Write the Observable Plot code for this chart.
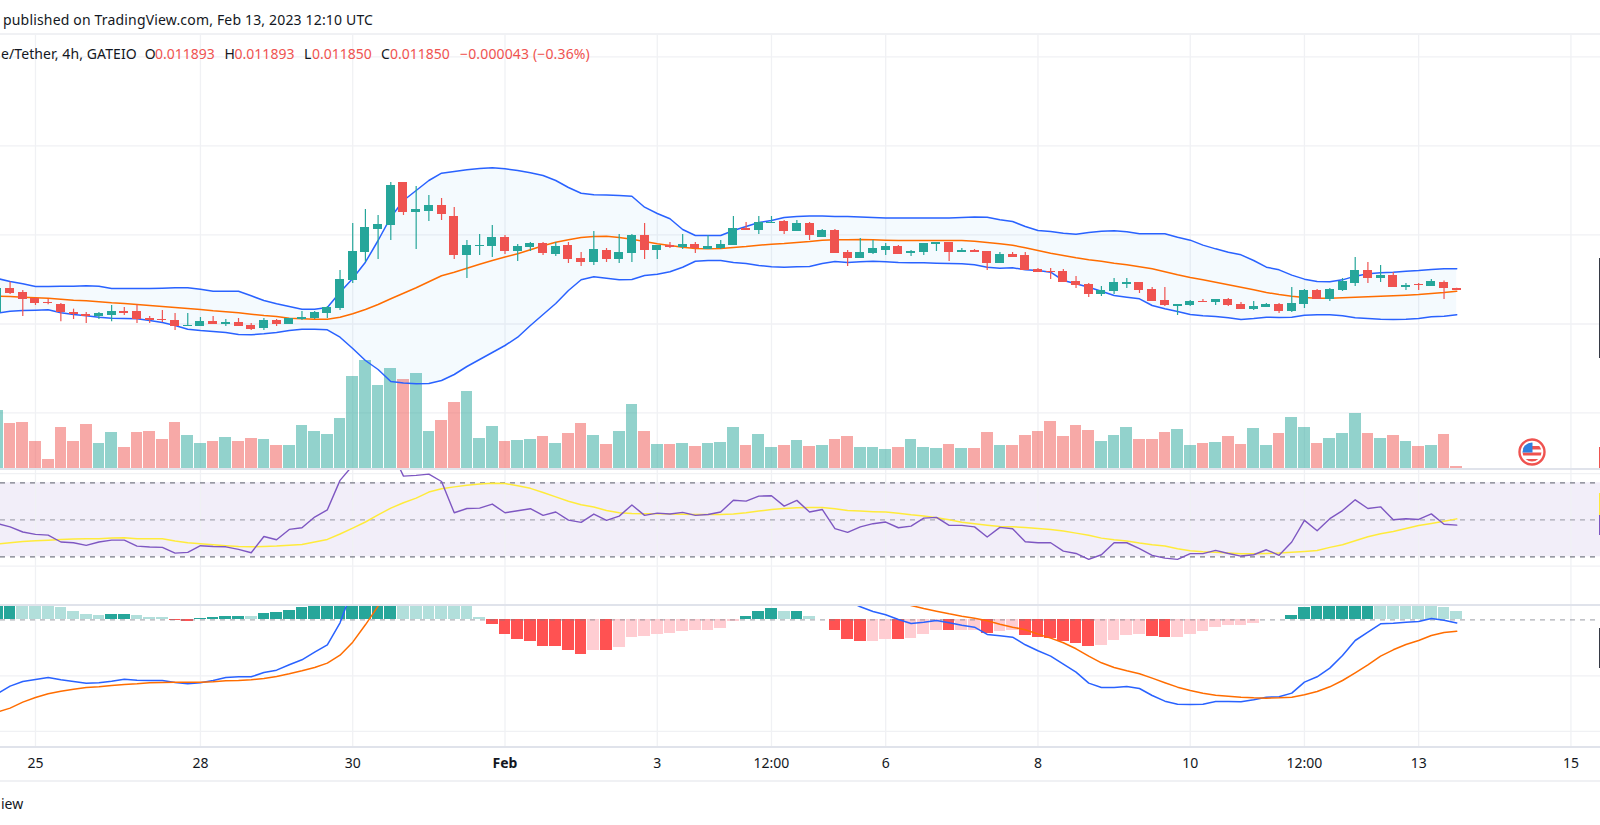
<!DOCTYPE html>
<html><head><meta charset="utf-8">
<script src="https://cdn.jsdelivr.net/npm/d3@7"></script>
<script src="https://cdn.jsdelivr.net/npm/@observablehq/plot@0.6"></script>
<style>
html,body{margin:0;padding:0;background:#fff;width:1600px;height:825px;overflow:hidden}
#page{position:relative;width:1600px;height:825px;overflow:hidden;font-family:"Noto Sans",sans-serif;font-size:14px;color:#131722}
#page svg.plot-layer{position:absolute;left:0;display:block;max-width:none}
.t{position:absolute;white-space:nowrap;line-height:18px}
.red{color:#ef5350}
.sep{position:absolute;left:0;width:1600px}
.edge{position:absolute;left:1599px;width:1px}
</style></head>
<body><div id="page"></div>
<script>
// Prices are in millionths of a USDT; the first bar sits just off the left edge (bar index -1).
const firstBar = -1;
const opens = [11417,11890,11810,11697,11610,11570,11403,11370,11330,11350,
11430,11430,11290,11270,11250,11137,11130,11230,11170,11210,
11150,11090,11250,11170,11270,11290,11390,11490,12050,12610,
13070,13150,14010,13410,13430,13550,13330,12550,12730,12730,
12910,12630,12710,12790,12570,12750,12490,12410,12650,12470,
12590,12950,12650,12750,12710,12770,12670,12690,12750,13090,
13050,13190,13230,13030,13190,12910,13050,12610,12490,12590,
12650,12730,12590,12610,12770,12810,12610,12650,12630,12390,
12570,12550,12270,12230,12230,12030,11970,11770,11830,11970,
12010,11870,11650,11530,11550,11630,11610,11670,11570,11470,
11510,11570,11430,11570,11850,11670,11850,11990,12250,12090,
12150,11910,11970,11930,12010,11893];
const highs = [11897,12017,11850,11697,11670,11590,11477,11410,11410,11550,
11510,11563,11330,11450,11390,11390,11310,11330,11270,11290,
11190,11290,11270,11290,11430,11430,11530,12250,13190,13470,
13350,14010,14010,13930,13750,13690,13510,12850,12970,13150,
12950,12770,12810,12810,12810,12810,12610,13030,12690,12970,
12970,13190,12750,12810,12970,12810,12950,12850,13330,13210,
13330,13330,13250,13250,13210,13070,13070,12650,12890,12850,
12790,12750,12650,12790,12810,12810,12690,12670,12630,12610,
12610,12610,12290,12290,12270,12130,11990,11930,12090,12090,
12010,11910,11910,11570,11650,11670,11670,11690,11610,11630,
11590,11590,11910,11870,11870,11890,12090,12510,12410,12350,
12210,11990,11990,12070,12040,11893];
const lows = [11417,11770,11330,11550,11563,11223,11270,11190,11270,11223,
11350,11190,11190,11210,11050,11137,11130,11170,11130,11130,
11050,11050,11130,11170,11250,11270,11290,11450,11990,12410,
12470,12850,13350,12670,13230,13250,12470,12090,12550,12510,
12570,12430,12630,12550,12530,12390,12330,12350,12410,12390,
12410,12470,12470,12690,12670,12590,12670,12670,12750,13050,
12970,13190,12970,13030,12850,12910,12590,12330,12490,12570,
12550,12570,12530,12550,12630,12430,12610,12610,12250,12390,
12510,12250,12210,12070,12010,11890,11710,11730,11770,11890,
11790,11630,11530,11350,11530,11610,11550,11530,11470,11450,
11510,11390,11410,11490,11670,11630,11830,11930,11990,12010,
11910,11850,11850,11930,11670,11850];
const closes = [11897,11783,11670,11590,11590,11410,11377,11330,11390,11430,
11390,11270,11250,11250,11130,11150,11230,11170,11210,11130,
11070,11250,11170,11290,11310,11410,11510,12070,12630,13110,
13170,13950,13410,13470,13550,13370,12550,12750,12750,12910,
12630,12730,12790,12590,12730,12470,12410,12670,12470,12610,
12950,12650,12750,12710,12770,12690,12730,12770,13090,13050,
13210,13210,13030,13190,12950,13050,12590,12490,12610,12690,
12730,12570,12630,12790,12810,12610,12650,12610,12390,12570,
12510,12250,12210,12210,12010,11950,11770,11850,12010,12010,
11850,11630,11550,11570,11630,11610,11670,11550,11470,11530,
11570,11430,11590,11850,11670,11870,12030,12250,12090,12150,
11910,11950,11950,12030,11893,11850];
const volumes = [58,45,46,27,9,41,27,44,25,36,21,36,37,29,46,33,25,27,31,27,
30,29,23,23,43,37,34,50,92,108,83,100,89,95,37,48,66,77,30,42,
27,28,29,32,25,35,45,33,24,37,64,37,24,24,25,22,25,26,41,23,
34,21,23,28,22,23,29,32,21,21,19,21,29,21,20,24,20,20,36,23,
23,33,37,47,32,43,38,27,33,41,29,29,36,39,23,25,26,32,24,40,
23,35,51,41,25,30,35,55,35,30,33,27,22,23,34,2];
const bbUpper = [12090,12030,11984,11930,11930,11936,11936,11944,11936,11890,
11890,11890,11890,11896,11904,11904,11876,11836,11836,11836,
11744,11650,11584,11530,11476,11476,11510,11816,12090,12416,
12850,13316,13650,13850,14050,14196,14230,14264,14290,14304,
14284,14250,14204,14150,14050,13910,13796,13764,13758,13750,
13736,13516,13390,13284,13070,12950,12950,12950,13050,13130,
13210,13250,13310,13330,13340,13340,13330,13330,13320,13310,
13300,13300,13300,13300,13300,13300,13310,13320,13316,13264,
13230,13130,13050,13030,12997,12977,13010,13037,13043,13023,
12983,12983,12983,12917,12857,12757,12683,12617,12563,12450,
12317,12263,12157,12077,12030,12023,12063,12137,12183,12203,
12217,12237,12250,12270,12283,12283];
const bbLower = [11396,11436,11450,11456,11464,11404,11370,11344,11316,11296,
11290,11284,11250,11210,11150,11076,11050,11030,11010,10970,
10964,10984,11010,11050,11076,11076,11064,10916,10690,10450,
10270,10030,10000,9984,9990,10050,10170,10330,10470,10610,
10750,10916,11150,11370,11590,11850,12064,12124,12096,12064,
12070,12150,12176,12224,12316,12436,12450,12450,12410,12390,
12350,12324,12316,12324,12330,12390,12430,12410,12424,12436,
12424,12410,12404,12404,12396,12390,12384,12364,12314,12294,
12304,12264,12250,12216,12050,11984,11916,11836,11750,11716,
11684,11550,11484,11430,11370,11344,11330,11304,11270,11290,
11316,11310,11316,11356,11364,11364,11344,11304,11290,11276,
11270,11276,11290,11324,11336,11364];
const bbBasis = [11736,11730,11716,11704,11696,11676,11656,11644,11624,11604,
11590,11570,11550,11530,11510,11490,11470,11444,11424,11404,
11376,11350,11330,11296,11284,11276,11276,11316,11384,11470,
11570,11684,11796,11904,12024,12144,12216,12296,12376,12450,
12520,12584,12664,12744,12816,12864,12910,12930,12936,12910,
12876,12830,12784,12750,12716,12690,12684,12690,12710,12730,
12756,12776,12790,12810,12830,12856,12864,12864,12870,12864,
12856,12850,12850,12850,12850,12850,12850,12836,12810,12784,
12756,12704,12650,12596,12550,12504,12464,12436,12396,12364,
12324,12284,12224,12164,12110,12064,12016,11964,11916,11864,
11810,11770,11736,11710,11696,11696,11706,11716,11726,11736,
11744,11756,11770,11790,11810,11836];
const rsi = [47.9,46.2,43.4,42.1,41.7,38,37.6,36.2,38,39,
39,35.8,35.3,35.1,32,32.4,36,35.6,35.4,34,
32.2,41,39.2,44.8,45.7,51.5,55.4,71.3,79.4,83,
86,88,73.6,74,74.7,70.7,53.8,56.1,56.3,58.5,
53.8,54.9,56,52.4,54.2,49.8,48.6,53.1,49.7,52,
58,52.4,53.6,53.1,54,52.4,52.9,54.2,60.6,60.1,
62.8,63,57.4,60.5,54.2,55.6,45.2,43.2,46.2,47.9,
48.8,45.7,46.6,50.9,51.3,47,47,46.2,40.7,45.9,
45.2,38.1,37.6,37.6,33.1,31.8,28.6,31.1,37.6,37.6,
34.4,30.8,29.3,28.6,31.7,31.7,33.5,31.8,30.4,31.1,
33.8,30.8,38,49.7,44.1,50.6,55,60.8,56.1,57,
50,50.6,50.2,53.2,47.6,47.1];
const rsiMa = [36.9,37.6,38.3,38.7,39,39.4,39.6,39.8,39.8,40.1,
40.3,39.8,39.8,39.8,38.5,37.6,37.1,36.5,36,35.6,
35.4,35.6,35.8,36.2,36.7,38,39.4,42.3,45.5,48.8,
52.7,56.3,59.2,61.7,65,66.8,67.8,68.7,69.3,69.8,
69.6,68.4,67,64.8,62.4,60,58.1,56.9,55,53.8,
53.4,53.3,53.3,53.1,53,52.9,52.9,52.9,53.2,53.8,
54.7,55.6,56.1,56.5,56.6,56.7,56,55,54.7,54.4,
54.2,53.6,52.7,52,51.1,50,48.7,47.9,47.1,46.4,
46.2,45.9,45.3,44.8,43.9,42.8,41.7,40.1,39.2,38.5,
37.4,36.5,35.8,34.4,33.3,32.7,32.4,32,31.6,31.6,
31.8,32,32.4,32.9,33.4,35.1,36.5,38.7,40.8,42.5,
43.7,45.3,46.9,48,49.2,50.5];
const macd = [-148,-132.7,-123.4,-119.4,-115.4,-120,-123.4,-126.7,-126,-122.7,
-118.7,-120.7,-121.4,-121.4,-125.4,-128,-126,-121.4,-115.4,-114,
-114,-105.4,-100.7,-90,-80,-64.7,-50,-6,62,90,
130,170,195,215,225,232,235,232,220,200,
170,145,130,118,108,98,90,85,80,78,
80,80,78,75,74,73,72,71,75,85,
92,95,92,88,78,68,52,38.7,26,16.7,
10,0.7,-7.3,-4.7,-1.3,-6,-10.7,-14.7,-29.3,-32,
-34.7,-50,-62,-72.7,-88.7,-104.7,-126.7,-135.4,-135.4,-133.4,
-137.4,-151.4,-162.7,-168.7,-169.4,-168.7,-163.4,-163.4,-164,-160,
-154.7,-154,-146.7,-124.7,-114,-96.7,-71.4,-41.4,-24.7,-8,
-6.7,-4.7,-3.3,2.7,-0.7,-6.2];
const macdSignal = [-184.7,-176.7,-164.7,-155.4,-148,-142.7,-138.7,-135.4,-134,-131.4,
-129.4,-128,-126,-125.4,-124.7,-124.7,-124.7,-124,-122,-121.4,
-120,-117.4,-113.4,-108,-102,-95.4,-86.7,-70.7,-44.7,-10,
27.3,62,92,118,140,158,172,180,186,190,
192,186,178,170,160,150,142,132,125,118,
112,108,104,100,97,94,92,90,87,85,
80,76,72,70,68,67,64,62,56,50,
44,36,28.7,22.7,17.3,12,7.3,3.3,-2,-8.7,
-14.7,-20,-28.7,-36.7,-46,-58,-72.7,-86,-95.4,-102,
-108,-116.7,-126,-134.7,-141.4,-146.7,-150.7,-152.7,-154.7,-156,
-156.7,-156,-154.7,-150,-143.4,-134,-121.4,-106,-90,-72.7,
-60,-49.4,-41.4,-31.4,-25.3,-22.7];
const macdHist = [40,40,40,35,30,24.7,16.7,10.7,8.7,10.7,
10.7,8.7,4.7,4.7,-1.3,-3.3,2.7,4.7,6.7,6.7,
6.7,12.7,14.7,18.7,24.7,32,36,40,44,46,
48,50,47,44,41,38,35,32,4.7,-9.3,
-29.3,-39.3,-43.3,-53.3,-53.3,-61.3,-69.3,-61.3,-61.3,-55.3,
-35.3,-33.3,-29.3,-27.3,-23.3,-21.3,-21.3,-17.3,-3.3,6.7,
16.7,22.7,16.7,16.7,6.7,0.7,-21.3,-39.3,-43.3,-43.3,
-39.3,-39.3,-37.3,-29.3,-21.3,-21.3,-21.3,-21.3,-27.3,-23.3,
-21.3,-31.3,-35.3,-37.3,-43.3,-47.3,-53.3,-51.3,-41.3,-31.3,
-29.3,-33.3,-35.3,-35.3,-29.3,-23.3,-15.3,-11.3,-11.3,-7.3,
0.7,0.7,8.7,24.7,32,34,36,38,38,36,
34,30,30,29,24.6,16.6];
// d = histogram bar growing away from zero (strong tone), l = shrinking (pale tone)
const macdTone = ["ddllllllld","dllldddddd","lddddddddd","ddllllllld","dddddddldl","llllllllld",
"ddldlldddl","ldllldlldl","lddddddlll","lddlllllll","dddddddddl","llllll"].join("").split("");
const tickBars = [2,15,27,39,51,60,69,81,93,102,111,123];
const tickLabels = ["25","28","30","Feb","3","12:00","6","8","10","12:00","13","15"];
const boldTicks = ["Feb"];
const priceGrid = [9402,11180,12962,14742,16522];
const rsiGrid = [75,25];
const rsiLevels = [70,30];
const macdGrid = [-112,-223];
const title = "published on TradingView.com, Feb 13, 2023 12:10 UTC";
const symbol = "e/Tether, 4h, GATEIO";
const ohlcNames = ["O","H","L","C"];
const ohlcValues = ["0.011893","0.011893","0.011850","0.011850"];
const changeText = "\u22120.000043 (\u22120.36%)";
const footer = "iew";

const GREEN="#26a69a", RED="#ef5350", BLUE="#2962ff", ORANGE="#ff6d00", GRID="#f0f1f4", PURPLE="#7e57c2", YELLOW="#ffeb3b";
const bars = opens.map((o,k)=>({i:firstBar+k,o,h:highs[k],l:lows[k],c:closes[k],v:volumes[k],
  up:bbUpper[k],lo:bbLower[k],ba:bbBasis[k],rsi:rsi[k],ma:rsiMa[k],macd:macd[k],sig:macdSignal[k],hist:macdHist[k],tone:macdTone[k]}));
const ticks = tickBars.map((i,k)=>({i,label:tickLabels[k]}));
const xScale = {domain:[-0.7565,125.33],range:[0,1600],axis:null};
const base = {width:1600,marginTop:0,marginRight:0,marginBottom:0,marginLeft:0,x:xScale,
  style:{background:"transparent",fontFamily:'"Noto Sans",sans-serif'}};
const dirColor = d => d.c>=d.o?GREEN:RED;
const page = document.getElementById("page");
function place(svg,top){svg.classList.add("plot-layer");svg.style.top=top+"px";svg.style.width="1600px";page.appendChild(svg);return svg;}
const vGrid = Plot.ruleX(ticks,{x:"i",stroke:GRID,strokeWidth:1.3});

// Volume layer, under the price layer
place(Plot.plot({...base,height:434,y:{domain:[0,434],range:[434,0],axis:null},color:{type:"identity"},marks:[
  vGrid,
  Plot.ruleY([55.6],{stroke:GRID,strokeWidth:1.3}),
  Plot.rect(bars,{x1:d=>d.i-0.46,x2:d=>d.i+0.46,y1:0,y2:"v",fill:dirColor,fillOpacity:0.5,shapeRendering:"crispEdges"})
]}),34);

// Price layer
const priceY = {domain:[8290,16970],range:[434,0],axis:null};
place(Plot.plot({...base,height:434,y:priceY,color:{type:"identity"},marks:[
  Plot.ruleY(priceGrid.slice(1),{stroke:GRID,strokeWidth:1.3}),
  Plot.areaY(bars,{x:"i",y1:"lo",y2:"up",fill:"#2196f3",fillOpacity:0.05}),
  Plot.line(bars,{x:"i",y:"up",stroke:BLUE,strokeWidth:1.5}),
  Plot.line(bars,{x:"i",y:"lo",stroke:BLUE,strokeWidth:1.5}),
  Plot.line(bars,{x:"i",y:"ba",stroke:ORANGE,strokeWidth:1.5}),
  Plot.ruleX(bars,{x:"i",y1:"l",y2:"h",stroke:dirColor,strokeWidth:1.2}),
  Plot.rect(bars,{x1:d=>d.i-0.355,x2:d=>d.i+0.355,y1:"o",y2:"c",fill:dirColor,shapeRendering:"crispEdges"})
]}),34);

// RSI layer
place(Plot.plot({...base,height:136,y:{domain:[4.22,77.73],range:[136,0],axis:null},marks:[
  Plot.rect([{a:30,b:70}],{x1:xScale.domain[0],x2:xScale.domain[1],y1:"a",y2:"b",fill:PURPLE,fillOpacity:0.1}),
  vGrid,
  Plot.ruleY(rsiGrid,{stroke:GRID,strokeWidth:1.3}),
  Plot.ruleY(rsiLevels,{stroke:"#787b86",strokeWidth:1.3,strokeDasharray:"5,5"}),
  Plot.ruleY([50],{stroke:"#787b86",strokeOpacity:0.6,strokeWidth:1.2,strokeDasharray:"5,5"}),
  Plot.line(bars,{x:"i",y:"ma",stroke:YELLOW,strokeWidth:1.5}),
  Plot.line(bars,{x:"i",y:"rsi",stroke:PURPLE,strokeWidth:1.4})
]}),468);

// MACD layer
const histColor = d => d.hist>=0?(d.tone==="d"?GREEN:"#b2dfdb"):(d.tone==="d"?"#ff5252":"#ffcdd2");
place(Plot.plot({...base,height:142,y:{domain:[-253.4,30.6],range:[142,0],axis:null},color:{type:"identity"},marks:[
  vGrid,
  Plot.ruleY(macdGrid,{stroke:GRID,strokeWidth:1.3}),
  Plot.rect(bars,{x1:d=>d.i-0.46,x2:d=>d.i+0.46,y1:0,y2:"hist",fill:histColor,shapeRendering:"crispEdges"}),
  Plot.ruleY([0],{stroke:"#787b86",strokeOpacity:0.6,strokeWidth:1.2,strokeDasharray:"5,5"}),
  Plot.line(bars,{x:"i",y:"macd",stroke:BLUE,strokeWidth:1.5}),
  Plot.line(bars,{x:"i",y:"sig",stroke:ORANGE,strokeWidth:1.5})
]}),604);

// Time axis
place(Plot.plot({...base,height:34,y:{domain:[0,1],axis:null},marks:[
  Plot.text(ticks.filter(t=>!boldTicks.includes(t.label)),{x:"i",frameAnchor:"middle",text:"label",fill:"#131722",fontSize:14}),
  Plot.text(ticks.filter(t=>boldTicks.includes(t.label)),{x:"i",frameAnchor:"middle",text:"label",fill:"#131722",fontSize:14,fontWeight:"bold"})
]}),746);

// Frame separators
[[33,2,GRID],[468,1.5,"#e0e3eb"],[604,1.5,"#e0e3eb"],[746,1.5,"#e0e3eb"],[780,2,GRID]].forEach(([t,h,c])=>{
  const s=document.createElement("div");s.className="sep";s.style.top=t+"px";s.style.height=h+"px";s.style.background=c;page.appendChild(s);
});
// Slivers of the cropped price scale at the right edge
[[258,100,"#363a45"],[447,21,RED],[493,22,YELLOW],[515,20,PURPLE],[628,40,"#363a45"]].forEach(([t,h,c])=>{
  const s=document.createElement("div");s.className="edge";s.style.top=t+"px";s.style.height=h+"px";s.style.background=c;page.appendChild(s);
});
function text(str,x,cy,cls,spacing){
  const s=document.createElement("div");s.className="t"+(cls?" "+cls:"");s.textContent=str;
  s.style.left=x+"px";s.style.top=(cy-9)+"px";if(spacing)s.style.letterSpacing=spacing+"px";page.appendChild(s);return s;
}
text(title,3,20,"",0.17);
text(symbol,1,54,"",0.1);
[144.7,224.6,304,381].forEach((x,k)=>text(ohlcNames[k],x,54));
[155,234.6,312,390].forEach((x,k)=>text(ohlcValues[k],x,54,"red"));
text(changeText,460,54,"red",0.15);
text(footer,1,804);

// Event marker
const flag=document.createElement("div");flag.style.cssText="position:absolute;left:1518px;top:438px;width:28px;height:28px";
flag.innerHTML=`<svg width="28" height="28" viewBox="0 0 28 28"><circle cx="14" cy="14" r="12.5" fill="#fff" stroke="${RED}" stroke-width="2.4"/>
<clipPath id="fc"><circle cx="14" cy="14" r="9.5"/></clipPath><g clip-path="url(#fc)">
<rect x="3" y="8" width="22" height="3.5" fill="${RED}"/><rect x="3" y="14.5" width="22" height="3" fill="${RED}"/><rect x="3" y="21" width="22" height="4" fill="${RED}"/>
<rect x="4" y="4" width="10.5" height="10.5" fill="#2f7fe0"/></g></svg>`;
page.appendChild(flag);
</script></body></html>
